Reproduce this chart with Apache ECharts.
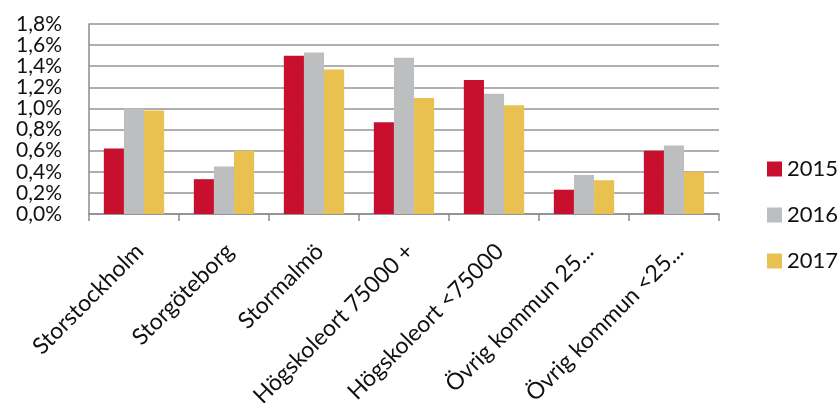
<!DOCTYPE html>
<html><head><meta charset="utf-8">
<script src="https://cdn.jsdelivr.net/npm/echarts@6/dist/echarts.min.js"></script>
<style>html,body{margin:0;padding:0;background:#fff}#c{width:838px;height:403px}</style>
</head><body><div id="c"></div>
<script>
const categories = ["Storstockholm","Storgöteborg","Stormalmö","Högskoleort 75000 +","Högskoleort <75000","Övrig kommun 25...","Övrig kommun <25..."];
const s2015 = [0.62,0.33,1.50,0.87,1.27,0.23,0.60];
const s2016 = [1.00,0.45,1.53,1.48,1.14,0.37,0.65];
const s2017 = [0.98,0.60,1.37,1.10,1.03,0.32,0.40];
const seriesNames = ["2015","2016","2017"];
const colors = ["#C8102E","#BDBEC0","#E8C150"];
const font = "Lato, 'Open Sans', sans-serif";
const chart = echarts.init(document.getElementById('c'));
const data = [s2015,s2016,s2017];
chart.setOption({
  animation:false,
  textStyle:{fontFamily:font},
  grid:{left:89,right:119,top:24,bottom:189,containLabel:false,outerBoundsMode:'none'},
  legend:{orient:'vertical',left:762,top:153,itemWidth:15,itemHeight:15,itemGap:24,
    icon:'rect',textStyle:{fontSize:22,color:'#111',fontFamily:font},data:seriesNames},
  xAxis:{type:'category',data:categories,
    axisLine:{lineStyle:{color:'#8c8c8c',width:1.5}},
    axisTick:{show:true,length:7,lineStyle:{color:'#8c8c8c',width:1.5},alignWithLabel:false},
    axisLabel:{rotate:45,fontSize:23,color:'#111',interval:0,margin:28,verticalAlign:'top',lineHeight:16,hideOverlap:false}},
  yAxis:{type:'value',min:0,max:1.8,interval:0.2,
    axisLine:{show:true,lineStyle:{color:'#8c8c8c',width:1.5}},
    axisTick:{show:false},
    splitLine:{lineStyle:{color:'#959595',width:1.5}},
    axisLabel:{fontSize:21,color:'#111',margin:27,
      formatter:v=>v.toFixed(1).replace('.',',')+'%'}},
  series:seriesNames.map((n,i)=>({name:n,type:'bar',data:data[i],barGap:'0%',barCategoryGap:'33%',
    itemStyle:{color:colors[i]}}))
});
</script></body></html>
